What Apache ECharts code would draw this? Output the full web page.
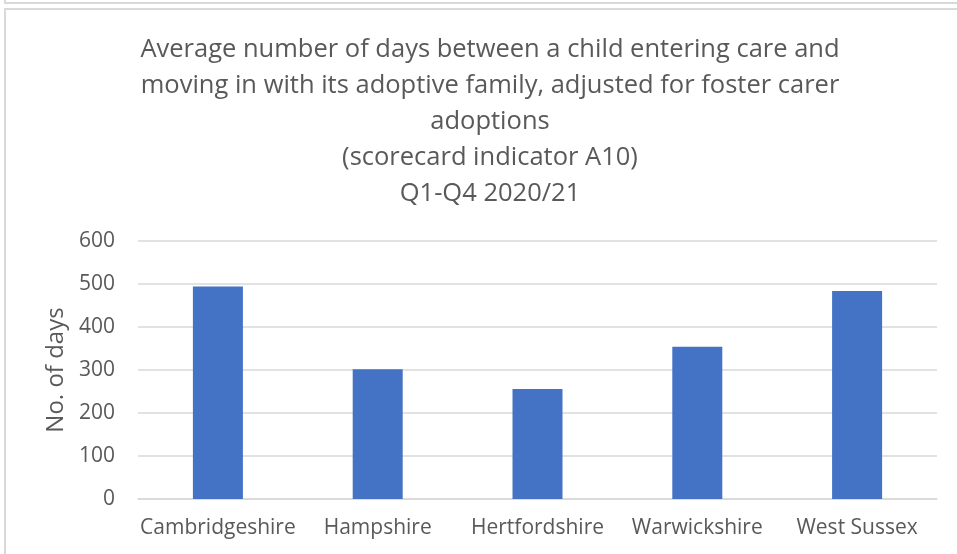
<!DOCTYPE html>
<html lang="en">
<head>
    <meta charset="UTF-8">
    <title>A10 days</title>
    <script src="https://cdn.jsdelivr.net/npm/echarts@6/dist/echarts.min.js"></script>
    <style>
        body { margin: 0; background: #fff; }
        #top { position: absolute; left: 4px; top: -10px; width: 960px; height: 12px; border-left: 2px solid #d9d9d9; border-bottom: 2px solid #d9d9d9; }
        #frame { position: absolute; left: 4px; top: 8px; width: 960px; height: 560px; border-left: 2px solid #d9d9d9; border-top: 2px solid #d9d9d9; }
        #main { position: absolute; left: 0; top: 0; width: 957px; height: 554px; }
    </style>
</head>
<body>
    <div id="top"></div>
    <div id="frame"></div>
    <div id="main"></div>
    <script>
        var areas = ['Cambridgeshire', 'Hampshire', 'Hertfordshire', 'Warwickshire', 'West Sussex'];
        var days = [494, 302, 256, 354, 484];

        var font = 'Open Sans';
        var grey = '#595959';

        var myChart = echarts.init(document.getElementById('main'));
        myChart.setOption({
            title: {
                text: 'Average number of days between a child entering care and\nmoving in with its adoptive family, adjusted for foster carer\nadoptions\n(scorecard indicator A10)\nQ1-Q4 2020/21',
                left: 485,
                top: 27,
                textAlign: 'center',
                textStyle: {
                    fontFamily: font,
                    fontSize: 25.5,
                    fontWeight: 'normal',
                    color: grey,
                    lineHeight: 36
                }
            },
            grid: {
                left: 138,
                right: 20,
                top: 241,
                bottom: 55
            },
            xAxis: {
                type: 'category',
                data: areas,
                axisLine: { lineStyle: { color: '#d9d9d9', width: 1.5 } },
                axisTick: { show: false },
                axisLabel: {
                    interval: 0,
                    fontFamily: font,
                    fontSize: 21,
                    color: grey,
                    margin: 19
                }
            },
            yAxis: {
                type: 'value',
                min: 0,
                max: 600,
                interval: 100,
                name: 'No. of days',
                nameLocation: 'middle',
                nameGap: 70,
                nameTextStyle: {
                    fontFamily: font,
                    fontSize: 24,
                    color: grey
                },
                axisLine: { show: false },
                axisTick: { show: false },
                splitLine: { lineStyle: { color: '#d9d9d9', width: 1.5 } },
                axisLabel: {
                    fontFamily: font,
                    fontSize: 21,
                    color: grey,
                    margin: 23
                }
            },
            series: [
                {
                    type: 'bar',
                    data: days,
                    barWidth: 50,
                    itemStyle: { color: '#4472c4' }
                }
            ]
        });
    </script>
</body>
</html>
